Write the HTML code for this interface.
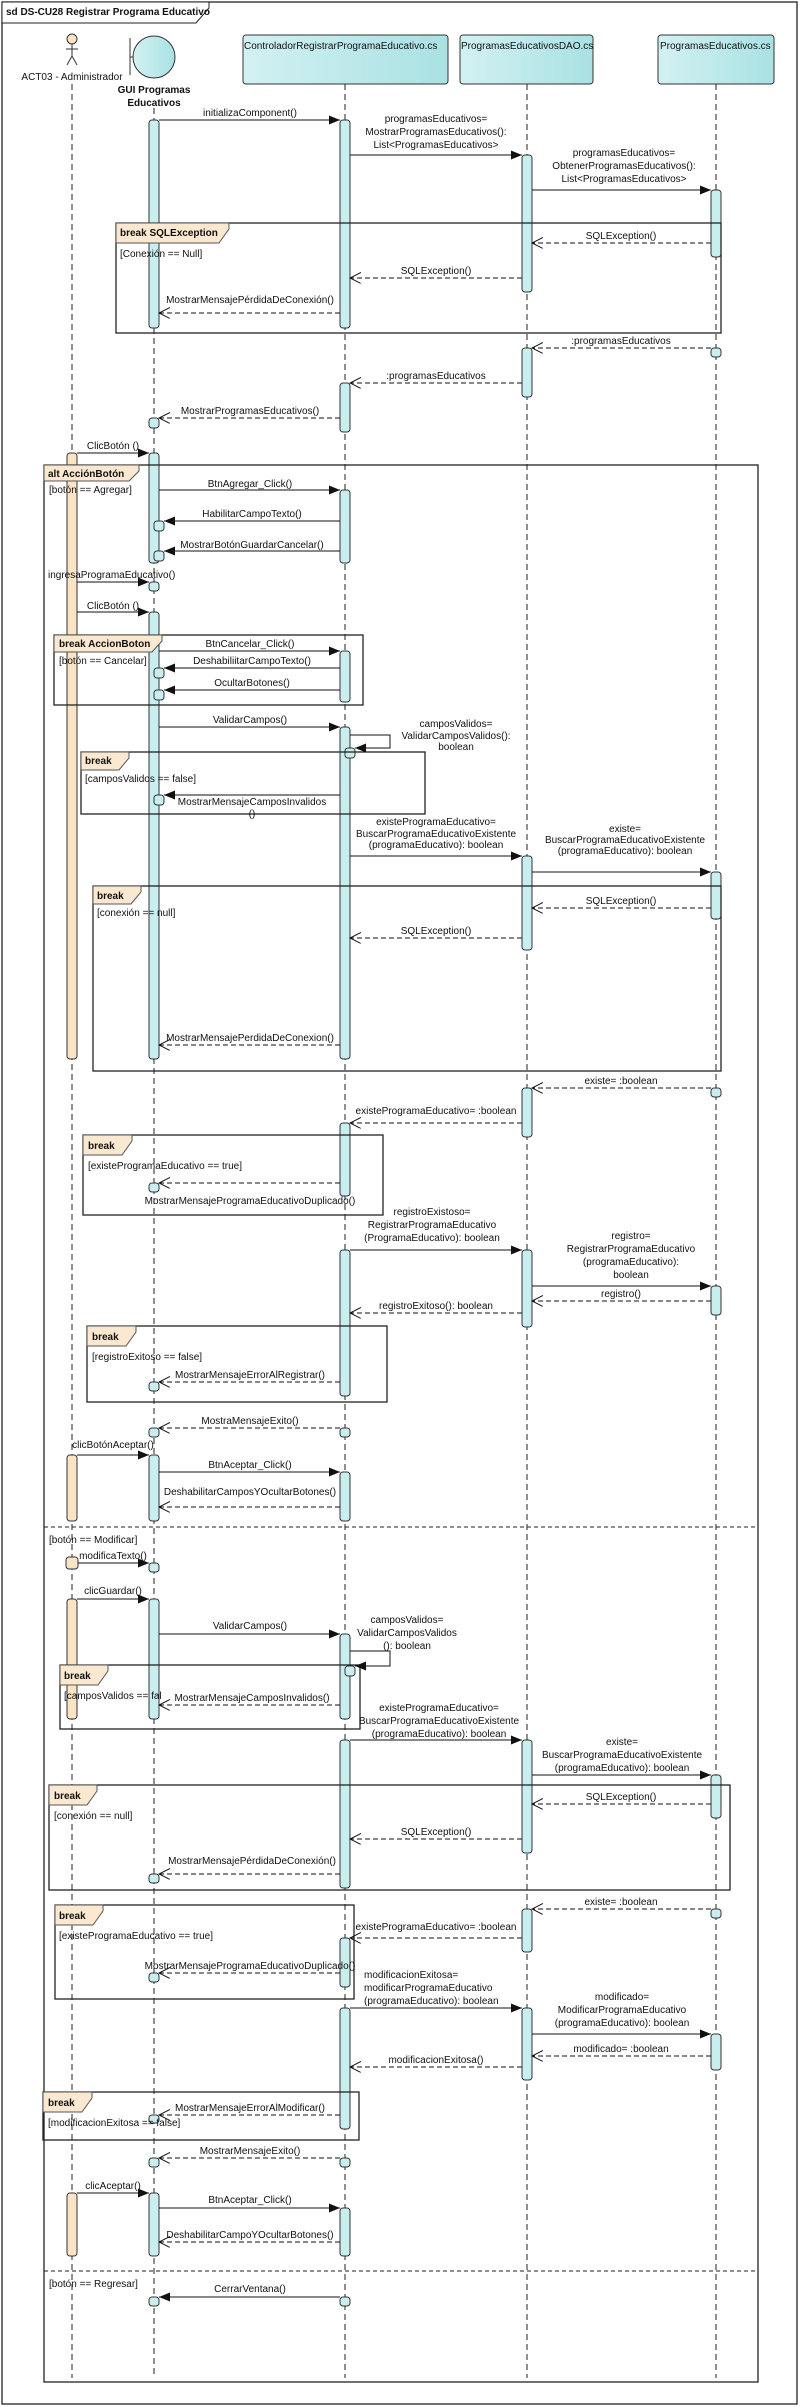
<!DOCTYPE html>
<html><head><meta charset="utf-8"><style>
html,body{margin:0;padding:0;background:#fff}
svg{display:block}
text{font-family:"Liberation Sans",sans-serif;font-size:10px;fill:#111}
.b{font-weight:bold}
.ll{stroke:#222;stroke-width:1;stroke-dasharray:6,4}
.act{fill:#c9eef0;stroke:#333;stroke-width:1}
.aa{fill:#fbe3c6;stroke:#333;stroke-width:1}
.s{stroke:#111;stroke-width:1;fill:none}
.r{stroke:#111;stroke-width:1;stroke-dasharray:5,3;fill:none}
.fr{fill:none;stroke:#222;stroke-width:1.3}
.tab{fill:#fbe8d0;stroke:#555;stroke-width:1}
.sep{stroke:#222;stroke-width:1;stroke-dasharray:4,3}
.m{text-anchor:middle}
</style></head><body>
<svg width="800" height="2407" viewBox="0 0 800 2407" xmlns="http://www.w3.org/2000/svg">
<defs>
<marker id="f" markerUnits="userSpaceOnUse" markerWidth="12" markerHeight="10" refX="11" refY="4.5" orient="auto"><path d="M0,0 L11,4.5 L0,9 z" fill="#111"/></marker>
<marker id="o" markerUnits="userSpaceOnUse" markerWidth="12" markerHeight="12" refX="11" refY="5.5" orient="auto"><path d="M0,0 L11,5.5 L0,11" fill="none" stroke="#111"/></marker>
<linearGradient id="g" x1="0" y1="0" x2="1" y2="0"><stop offset="0" stop-color="#d3f1f2"/><stop offset="1" stop-color="#a9e1e3"/></linearGradient>
</defs>
<rect x="2" y="2" width="795" height="2402" fill="none" stroke="#222" stroke-width="1.3"/>
<polygon points="2,2 209,2 209,8 196,23 2,23" fill="#fff" stroke="#222"/>
<text x="6" y="15" class="b">sd DS-CU28 Registrar Programa Educativo</text>

<!-- heads -->
<circle cx="72" cy="39" r="5" fill="#fbe3c6" stroke="#333"/>
<line x1="72" y1="44" x2="72" y2="56" stroke="#333"/><line x1="66" y1="49" x2="78" y2="49" stroke="#333"/>
<line x1="72" y1="56" x2="67" y2="65" stroke="#333"/><line x1="72" y1="56" x2="77" y2="65" stroke="#333"/>
<text x="72" y="80" class="m">ACT03 - Administrador</text>
<line x1="130" y1="38" x2="130" y2="75" stroke="#333"/><line x1="130" y1="57" x2="133" y2="57" stroke="#333"/>
<circle cx="154" cy="57" r="21" fill="url(#g)" stroke="#333"/>
<text x="154" y="93" class="m b">GUI Programas</text><text x="154" y="106" class="m b">Educativos</text>
<rect x="243" y="35" width="205" height="49" rx="3" fill="url(#g)" stroke="#333"/>
<text x="244" y="49">ControladorRegistrarProgramaEducativo.cs</text>
<rect x="460" y="35" width="133" height="49" rx="3" fill="url(#g)" stroke="#333"/>
<text x="461" y="49">ProgramasEducativosDAO.cs</text>
<rect x="658" y="35" width="116" height="49" rx="3" fill="url(#g)" stroke="#333"/>
<text x="660" y="49">ProgramasEducativos.cs</text>

<!-- lifelines -->
<line class="ll" x1="72" y1="84" x2="72" y2="2378"/>
<line class="ll" x1="154" y1="108" x2="154" y2="2378"/>
<line class="ll" x1="345" y1="84" x2="345" y2="2378"/>
<line class="ll" x1="527" y1="84" x2="527" y2="2378"/>
<line class="ll" x1="716" y1="84" x2="716" y2="2378"/>

<!-- activations actor -->
<rect class="aa" x="67" y="453" width="10" height="606" rx="3"/>
<rect class="aa" x="67" y="1455" width="10" height="66" rx="3"/>
<rect class="aa" x="66" y="1557" width="12" height="12" rx="3"/>
<rect class="aa" x="67" y="1599" width="10" height="120" rx="3"/>
<rect class="aa" x="67" y="2193" width="10" height="63" rx="3"/>

<!-- GUI activations -->
<rect class="act" x="149" y="120" width="10" height="208" rx="3"/>
<rect class="act" x="149" y="418" width="10" height="10" rx="3"/>
<rect class="act" x="149" y="453" width="10" height="110" rx="3"/>
<rect class="act" x="154" y="521" width="10" height="10" rx="3"/>
<rect class="act" x="154" y="551" width="10" height="10" rx="3"/>
<rect class="act" x="149" y="582" width="10" height="9" rx="3"/>
<rect class="act" x="149" y="612" width="10" height="447" rx="3"/>
<rect class="act" x="154" y="668" width="10" height="10" rx="3"/>
<rect class="act" x="154" y="690" width="10" height="10" rx="3"/>
<rect class="act" x="154" y="795" width="10" height="10" rx="3"/>
<rect class="act" x="149" y="1183" width="10" height="9" rx="3"/>
<rect class="act" x="149" y="1382" width="10" height="9" rx="3"/>
<rect class="act" x="149" y="1428" width="10" height="9" rx="3"/>
<rect class="act" x="149" y="1455" width="10" height="66" rx="3"/>
<rect class="act" x="149" y="1563" width="10" height="9" rx="3"/>
<rect class="act" x="149" y="1599" width="10" height="120" rx="3"/>
<rect class="act" x="149" y="1874" width="10" height="9" rx="3"/>
<rect class="act" x="149" y="1973" width="10" height="9" rx="3"/>
<rect class="act" x="149" y="2115" width="10" height="8" rx="3"/>
<rect class="act" x="149" y="2158" width="10" height="9" rx="3"/>
<rect class="act" x="149" y="2193" width="10" height="63" rx="3"/>
<rect class="act" x="149" y="2297" width="10" height="9" rx="3"/>

<!-- C activations -->
<rect class="act" x="340" y="120" width="10" height="208" rx="3"/>
<rect class="act" x="340" y="383" width="10" height="49" rx="3"/>
<rect class="act" x="340" y="490" width="10" height="73" rx="3"/>
<rect class="act" x="340" y="651" width="10" height="51" rx="3"/>
<rect class="act" x="340" y="727" width="10" height="332" rx="3"/>
<rect class="act" x="345" y="748" width="10" height="10" rx="3"/>
<rect class="act" x="340" y="1123" width="10" height="73" rx="3"/>
<rect class="act" x="340" y="1250" width="10" height="146" rx="3"/>
<rect class="act" x="340" y="1428" width="10" height="9" rx="3"/>
<rect class="act" x="340" y="1472" width="10" height="49" rx="3"/>
<rect class="act" x="340" y="1634" width="10" height="85" rx="3"/>
<rect class="act" x="345" y="1666" width="10" height="10" rx="3"/>
<rect class="act" x="340" y="1740" width="10" height="148" rx="3"/>
<rect class="act" x="340" y="1938" width="10" height="49" rx="3"/>
<rect class="act" x="340" y="2008" width="10" height="121" rx="3"/>
<rect class="act" x="340" y="2158" width="10" height="9" rx="3"/>
<rect class="act" x="340" y="2208" width="10" height="48" rx="3"/>
<rect class="act" x="340" y="2297" width="10" height="9" rx="3"/>

<!-- D activations -->
<rect class="act" x="522" y="155" width="10" height="137" rx="3"/>
<rect class="act" x="522" y="348" width="10" height="49" rx="3"/>
<rect class="act" x="522" y="856" width="10" height="94" rx="3"/>
<rect class="act" x="522" y="1088" width="10" height="49" rx="3"/>
<rect class="act" x="522" y="1250" width="10" height="77" rx="3"/>
<rect class="act" x="522" y="1740" width="10" height="113" rx="3"/>
<rect class="act" x="522" y="1909" width="10" height="43" rx="3"/>
<rect class="act" x="522" y="2008" width="10" height="72" rx="3"/>

<!-- M activations -->
<rect class="act" x="711" y="190" width="10" height="67" rx="3"/>
<rect class="act" x="711" y="348" width="10" height="9" rx="3"/>
<rect class="act" x="711" y="872" width="10" height="47" rx="3"/>
<rect class="act" x="711" y="1088" width="10" height="9" rx="3"/>
<rect class="act" x="711" y="1286" width="10" height="29" rx="3"/>
<rect class="act" x="711" y="1775" width="10" height="43" rx="3"/>
<rect class="act" x="711" y="1909" width="10" height="9" rx="3"/>
<rect class="act" x="711" y="2034" width="10" height="36" rx="3"/>

<!-- frames -->
<rect class="fr" x="116" y="223" width="605" height="110"/>
<polygon class="tab" points="116,223 229,223 229,229 219,243 116,243"/><text x="120" y="236" class="b">break SQLException</text>
<text x="120" y="257">[Conexión == Null]</text>

<rect class="fr" x="44" y="465" width="714" height="1917"/>
<polygon class="tab" points="44,465 139,465 139,471 129,481 44,481"/><text x="48" y="477" class="b">alt AcciónBotón</text>
<text x="49" y="493">[botón == Agregar]</text>
<line class="sep" x1="44" y1="1527" x2="758" y2="1527"/>
<text x="49" y="1543">[botón == Modificar]</text>
<line class="sep" x1="44" y1="2271" x2="758" y2="2271"/>
<text x="49" y="2287">[botón == Regresar]</text>

<rect class="fr" x="54" y="635" width="309" height="70"/>
<polygon class="tab" points="54,635 162,635 162,641 152,652 54,652"/><text x="59" y="647" class="b">break AccionBoton</text>
<text x="59" y="664">[botón == Cancelar]</text>

<rect class="fr" x="81" y="752" width="344" height="62"/>
<polygon class="tab" points="81,752 129,752 129,758 119,770 81,770"/><text x="85" y="764" class="b">break</text>
<text x="85" y="782">[camposValidos == false]</text>

<rect class="fr" x="93" y="886" width="628" height="185"/>
<polygon class="tab" points="93,886 141,886 141,892 131,904 93,904"/><text x="97" y="899" class="b">break</text>
<text x="97" y="916">[conexión == null]</text>

<rect class="fr" x="83" y="1135" width="300" height="80"/>
<polygon class="tab" points="83,1135 132,1135 132,1141 122,1155 83,1155"/><text x="88" y="1149" class="b">break</text>
<text x="88" y="1169">[existeProgramaEducativo == true]</text>

<rect class="fr" x="87" y="1326" width="300" height="76"/>
<polygon class="tab" points="87,1326 136,1326 136,1332 126,1346 87,1346"/><text x="92" y="1340" class="b">break</text>
<text x="92" y="1360">[registroExitoso == false]</text>

<rect class="fr" x="60" y="1665" width="300" height="64"/>
<polygon class="tab" points="60,1665 108,1665 108,1671 98,1685 60,1685"/><text x="64" y="1679" class="b">break</text>
<text x="64" y="1699">[camposValidos == fal</text>

<rect class="fr" x="49" y="1785" width="681" height="105"/>
<polygon class="tab" points="49,1785 97,1785 97,1791 87,1805 49,1805"/><text x="54" y="1799" class="b">break</text>
<text x="54" y="1819">[conexión == null]</text>

<rect class="fr" x="55" y="1905" width="299" height="94"/>
<polygon class="tab" points="55,1905 103,1905 103,1911 93,1925 55,1925"/><text x="59" y="1919" class="b">break</text>
<text x="59" y="1939">[existeProgramaEducativo == true]</text>

<rect class="fr" x="43" y="2092" width="316" height="48"/>
<polygon class="tab" points="43,2092 92,2092 92,2098 82,2112 43,2112"/><text x="48" y="2106" class="b">break</text>
<text x="48" y="2126">[modificacionExitosa == false]</text>

<!-- messages -->
<line class="s" x1="159" y1="120" x2="340" y2="120" marker-end="url(#f)"/><text x="250" y="116" class="m">initializaComponent()</text>
<line class="s" x1="350" y1="155" x2="522" y2="155" marker-end="url(#f)"/>
<text x="436" y="122" class="m">programasEducativos=</text><text x="436" y="135" class="m">MostrarProgramasEducativos():</text><text x="436" y="148" class="m">List&lt;ProgramasEducativos&gt;</text>
<line class="s" x1="532" y1="190" x2="711" y2="190" marker-end="url(#f)"/>
<text x="624" y="156" class="m">programasEducativos=</text><text x="624" y="169" class="m">ObtenerProgramasEducativos():</text><text x="624" y="182" class="m">List&lt;ProgramasEducativos&gt;</text>
<line class="r" x1="711" y1="243" x2="532" y2="243" marker-end="url(#o)"/><text x="621" y="239" class="m">SQLException()</text>
<line class="r" x1="522" y1="278" x2="350" y2="278" marker-end="url(#o)"/><text x="436" y="274" class="m">SQLException()</text>
<line class="r" x1="340" y1="313" x2="159" y2="313" marker-end="url(#o)"/><text x="250" y="303" class="m">MostrarMensajePérdidaDeConexión()</text>
<line class="r" x1="711" y1="348" x2="532" y2="348" marker-end="url(#o)"/><text x="621" y="344" class="m">:programasEducativos</text>
<line class="r" x1="522" y1="383" x2="350" y2="383" marker-end="url(#o)"/><text x="436" y="379" class="m">:programasEducativos</text>
<line class="r" x1="340" y1="418" x2="159" y2="418" marker-end="url(#o)"/><text x="250" y="414" class="m">MostrarProgramasEducativos()</text>
<line class="s" x1="77" y1="453" x2="149" y2="453" marker-end="url(#f)"/><text x="113" y="449" class="m">ClicBotón ()</text>

<line class="s" x1="159" y1="490" x2="340" y2="490" marker-end="url(#f)"/><text x="250" y="487" class="m">BtnAgregar_Click()</text>
<line class="s" x1="340" y1="521" x2="164" y2="521" marker-end="url(#f)"/><text x="252" y="517" class="m">HabilitarCampoTexto()</text>
<line class="s" x1="340" y1="551" x2="164" y2="551" marker-end="url(#f)"/><text x="252" y="548" class="m">MostrarBotónGuardarCancelar()</text>
<line class="s" x1="77" y1="582" x2="149" y2="582" marker-end="url(#f)"/><text x="48" y="578">ingresaProgramaEducativo()</text>
<line class="s" x1="77" y1="612" x2="149" y2="612" marker-end="url(#f)"/><text x="113" y="609" class="m">ClicBotón ()</text>
<line class="s" x1="159" y1="651" x2="340" y2="651" marker-end="url(#f)"/><text x="250" y="647" class="m">BtnCancelar_Click()</text>
<line class="s" x1="340" y1="668" x2="164" y2="668" marker-end="url(#f)"/><text x="252" y="664" class="m">DeshabiliitarCampoTexto()</text>
<line class="s" x1="340" y1="690" x2="164" y2="690" marker-end="url(#f)"/><text x="252" y="686" class="m">OcultarBotones()</text>
<line class="s" x1="159" y1="727" x2="340" y2="727" marker-end="url(#f)"/><text x="250" y="723" class="m">ValidarCampos()</text>
<polyline class="s" points="350,735 390,735 390,748 355,748" marker-end="url(#f)"/>
<text x="456" y="727" class="m">camposValidos=</text><text x="456" y="739" class="m">ValidarCamposValidos():</text><text x="456" y="750" class="m">boolean</text>
<line class="s" x1="340" y1="795" x2="164" y2="795" marker-end="url(#f)"/><text x="252" y="805" class="m">MostrarMensajeCamposInvalidos</text><text x="252" y="817" class="m">()</text>
<line class="s" x1="350" y1="856" x2="522" y2="856" marker-end="url(#f)"/>
<text x="436" y="825" class="m">existeProgramaEducativo=</text><text x="436" y="837" class="m">BuscarProgramaEducativoExistente</text><text x="436" y="848" class="m">(programaEducativo): boolean</text>
<line class="s" x1="532" y1="872" x2="711" y2="872" marker-end="url(#f)"/>
<text x="625" y="832" class="m">existe=</text><text x="625" y="843" class="m">BuscarProgramaEducativoExistente</text><text x="625" y="854" class="m">(programaEducativo): boolean</text>
<line class="r" x1="711" y1="908" x2="532" y2="908" marker-end="url(#o)"/><text x="621" y="904" class="m">SQLException()</text>
<line class="r" x1="522" y1="938" x2="350" y2="938" marker-end="url(#o)"/><text x="436" y="934" class="m">SQLException()</text>
<line class="r" x1="340" y1="1045" x2="159" y2="1045" marker-end="url(#o)"/><text x="250" y="1041" class="m">MostrarMensajePerdidaDeConexion()</text>
<line class="r" x1="711" y1="1088" x2="532" y2="1088" marker-end="url(#o)"/><text x="621" y="1084" class="m">existe= :boolean</text>
<line class="r" x1="522" y1="1123" x2="350" y2="1123" marker-end="url(#o)"/><text x="436" y="1114" class="m">existeProgramaEducativo= :boolean</text>
<line class="r" x1="340" y1="1183" x2="159" y2="1183" marker-end="url(#o)"/><text x="250" y="1204" class="m">MostrarMensajeProgramaEducativoDuplicado()</text>
<line class="s" x1="350" y1="1250" x2="522" y2="1250" marker-end="url(#f)"/>
<text x="432" y="1215" class="m">registroExistoso=</text><text x="432" y="1228" class="m">RegistrarProgramaEducativo</text><text x="432" y="1241" class="m">(ProgramaEducativo): boolean</text>
<line class="s" x1="532" y1="1286" x2="711" y2="1286" marker-end="url(#f)"/>
<text x="631" y="1239" class="m">registro=</text><text x="631" y="1252" class="m">RegistrarProgramaEducativo</text><text x="631" y="1265" class="m">(programaEducativo):</text><text x="631" y="1278" class="m">boolean</text>
<line class="r" x1="711" y1="1301" x2="532" y2="1301" marker-end="url(#o)"/><text x="621" y="1297" class="m">registro()</text>
<line class="r" x1="522" y1="1313" x2="350" y2="1313" marker-end="url(#o)"/><text x="436" y="1309" class="m">registroExitoso(): boolean</text>
<line class="r" x1="340" y1="1382" x2="159" y2="1382" marker-end="url(#o)"/><text x="250" y="1378" class="m">MostrarMensajeErrorAlRegistrar()</text>
<line class="r" x1="340" y1="1428" x2="159" y2="1428" marker-end="url(#o)"/><text x="250" y="1424" class="m">MostraMensajeExito()</text>
<line class="s" x1="77" y1="1455" x2="149" y2="1455" marker-end="url(#f)"/><text x="113" y="1448" class="m">clicBotónAceptar()</text>
<line class="s" x1="159" y1="1472" x2="340" y2="1472" marker-end="url(#f)"/><text x="250" y="1468" class="m">BtnAceptar_Click()</text>
<line class="r" x1="340" y1="1507" x2="159" y2="1507" marker-end="url(#o)"/><text x="250" y="1495" class="m">DeshabilitarCamposYOcultarBotones()</text>

<line class="s" x1="78" y1="1563" x2="149" y2="1563" marker-end="url(#f)"/><text x="113" y="1559" class="m">modificaTexto()</text>
<line class="s" x1="77" y1="1599" x2="149" y2="1599" marker-end="url(#f)"/><text x="113" y="1594" class="m">clicGuardar()</text>
<line class="s" x1="159" y1="1634" x2="340" y2="1634" marker-end="url(#f)"/><text x="250" y="1629" class="m">ValidarCampos()</text>
<polyline class="s" points="350,1651 390,1651 390,1666 355,1666" marker-end="url(#f)"/>
<text x="407" y="1623" class="m">camposValidos=</text><text x="407" y="1636" class="m">ValidarCamposValidos</text><text x="407" y="1649" class="m">(): boolean</text>
<line class="r" x1="340" y1="1705" x2="159" y2="1705" marker-end="url(#o)"/><text x="252" y="1701" class="m">MostrarMensajeCamposInvalidos()</text>
<line class="s" x1="350" y1="1740" x2="522" y2="1740" marker-end="url(#f)"/>
<text x="439" y="1711" class="m">existeProgramaEducativo=</text><text x="439" y="1724" class="m">BuscarProgramaEducativoExistente</text><text x="439" y="1737" class="m">(programaEducativo): boolean</text>
<line class="s" x1="532" y1="1775" x2="711" y2="1775" marker-end="url(#f)"/>
<text x="622" y="1745" class="m">existe=</text><text x="622" y="1758" class="m">BuscarProgramaEducativoExistente</text><text x="622" y="1771" class="m">(programaEducativo): boolean</text>
<line class="r" x1="711" y1="1804" x2="532" y2="1804" marker-end="url(#o)"/><text x="621" y="1800" class="m">SQLException()</text>
<line class="r" x1="522" y1="1839" x2="350" y2="1839" marker-end="url(#o)"/><text x="436" y="1835" class="m">SQLException()</text>
<line class="r" x1="340" y1="1874" x2="159" y2="1874" marker-end="url(#o)"/><text x="252" y="1864" class="m">MostrarMensajePérdidaDeConexión()</text>
<line class="r" x1="711" y1="1909" x2="532" y2="1909" marker-end="url(#o)"/><text x="621" y="1905" class="m">existe= :boolean</text>
<line class="r" x1="522" y1="1938" x2="350" y2="1938" marker-end="url(#o)"/><text x="436" y="1930" class="m">existeProgramaEducativo= :boolean</text>
<line class="r" x1="340" y1="1973" x2="159" y2="1973" marker-end="url(#o)"/><text x="250" y="1969" class="m">MostrarMensajeProgramaEducativoDuplicado()</text>
<line class="s" x1="350" y1="2008" x2="522" y2="2008" marker-end="url(#f)"/>
<text x="364" y="1978">modificacionExitosa=</text><text x="364" y="1991">modificarProgramaEducativo</text><text x="364" y="2004">(programaEducativo): boolean</text>
<line class="s" x1="532" y1="2034" x2="711" y2="2034" marker-end="url(#f)"/>
<text x="622" y="2000" class="m">modificado=</text><text x="622" y="2013" class="m">ModificarProgramaEducativo</text><text x="622" y="2026" class="m">(programaEducativo): boolean</text>
<line class="r" x1="711" y1="2056" x2="532" y2="2056" marker-end="url(#o)"/><text x="621" y="2052" class="m">modificado= :boolean</text>
<line class="r" x1="522" y1="2067" x2="350" y2="2067" marker-end="url(#o)"/><text x="436" y="2063" class="m">modificacionExitosa()</text>
<line class="r" x1="340" y1="2115" x2="159" y2="2115" marker-end="url(#o)"/><text x="250" y="2111" class="m">MostrarMensajeErrorAlModificar()</text>
<line class="r" x1="340" y1="2158" x2="159" y2="2158" marker-end="url(#o)"/><text x="250" y="2154" class="m">MostrarMensajeExito()</text>
<line class="s" x1="77" y1="2193" x2="149" y2="2193" marker-end="url(#f)"/><text x="113" y="2189" class="m">clicAceptar()</text>
<line class="s" x1="159" y1="2208" x2="340" y2="2208" marker-end="url(#f)"/><text x="250" y="2203" class="m">BtnAceptar_Click()</text>
<line class="r" x1="340" y1="2242" x2="159" y2="2242" marker-end="url(#o)"/><text x="250" y="2238" class="m">DeshabilitarCampoYOcultarBotones()</text>
<line class="s" x1="340" y1="2297" x2="159" y2="2297" marker-end="url(#f)"/><text x="250" y="2292" class="m">CerrarVentana()</text>
</svg>
</body></html>
